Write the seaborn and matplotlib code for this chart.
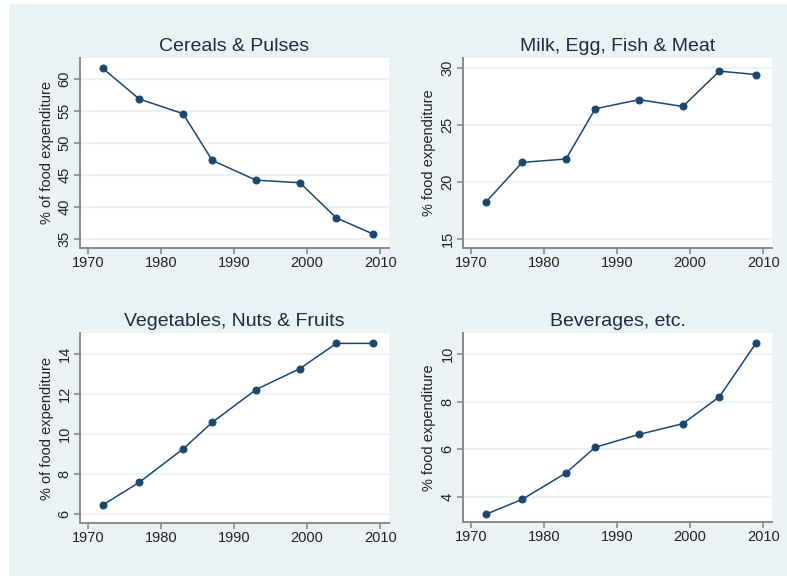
import matplotlib
matplotlib.use("Agg")
import matplotlib.pyplot as plt
from matplotlib.patches import Rectangle
import seaborn as sns

# NSS round years and shares of food expenditure (%)
years = [1972, 1977, 1983, 1987, 1993, 1999, 2004, 2009]
cereals = [61.7, 56.9, 54.6, 47.3, 44.2, 43.8, 38.3, 35.8]
milk_meat = [18.2, 21.7, 22.0, 26.4, 27.2, 26.6, 29.7, 29.4]
veg_fruits = [6.45, 7.58, 9.25, 10.58, 12.22, 13.27, 14.53, 14.53]
beverages = [3.26, 3.89, 5.0, 6.08, 6.62, 7.07, 8.2, 10.45]

titles = ["Cereals & Pulses", "Milk, Egg, Fish & Meat",
          "Vegetables, Nuts & Fruits", "Beverages, etc."]
ylabels = ["% of food expenditure", "% food expenditure",
           "% of food expenditure", "% food expenditure"]
yticks = [[35, 40, 45, 50, 55, 60], [15, 20, 25, 30],
          [6, 8, 10, 12, 14], [4, 6, 8, 10]]
ylims = [(33.6, 63.3), (14.2, 30.85), (5.55, 15.05), (2.94, 10.88)]
xticks = [1970, 1980, 1990, 2000, 2010]

sns.set_style("white")
plt.rcParams["font.family"] = ["Liberation Sans", "DejaVu Sans"]

bg = "#EAF2F3"
navy = "#1A476F"
axcol = "#8A8A8A"

fig = plt.figure(figsize=(7.87, 5.76), dpi=100, facecolor="white")
fig.patches.append(Rectangle((9 / 787, 0), 1, 1 - 4 / 576, transform=fig.transFigure,
                             facecolor=bg, edgecolor="none", zorder=-10))

W, H = 787, 576
boxes = [(80, 58, 389, 248), (463, 58, 772, 248),
         (80, 333, 389, 523), (463, 333, 772, 522)]
series = [cereals, milk_meat, veg_fruits, beverages]

for i in range(4):
    l, t, r, b = boxes[i]
    ax = fig.add_axes([l / W, 1 - b / H, (r - l) / W, (b - t) / H])
    ax.set_facecolor("white")
    sns.lineplot(x=years, y=series[i], ax=ax, color=navy, marker="o",
                 markersize=5, markeredgecolor=navy, linewidth=1.1)
    ax.set_xlim(1968.9, 2011.2)
    ax.set_ylim(*ylims[i])
    ax.set_xticks(xticks)
    ax.set_yticks(yticks[i])
    ax.set_yticklabels([str(v) for v in yticks[i]], rotation=90, va="center")
    for v in yticks[i]:
        ax.axhline(v, color=bg, linewidth=1.6, zorder=0)
    ax.set_title(titles[i], fontsize=14, color="#1E2A4A", pad=5)
    ax.set_ylabel(ylabels[i], fontsize=10.5, color="#222222", labelpad=3)
    ax.set_xlabel("")
    for s in ["top", "right"]:
        ax.spines[s].set_visible(False)
    for s in ["left", "bottom"]:
        ax.spines[s].set_color(axcol)
        ax.spines[s].set_linewidth(1.4)
    ax.tick_params(axis="both", direction="out", length=4, width=1.2, color=axcol,
                   labelsize=10.5, labelcolor="#222222", pad=2, left=True, bottom=True)

fig.savefig("out.png", dpi=100, facecolor="white")
